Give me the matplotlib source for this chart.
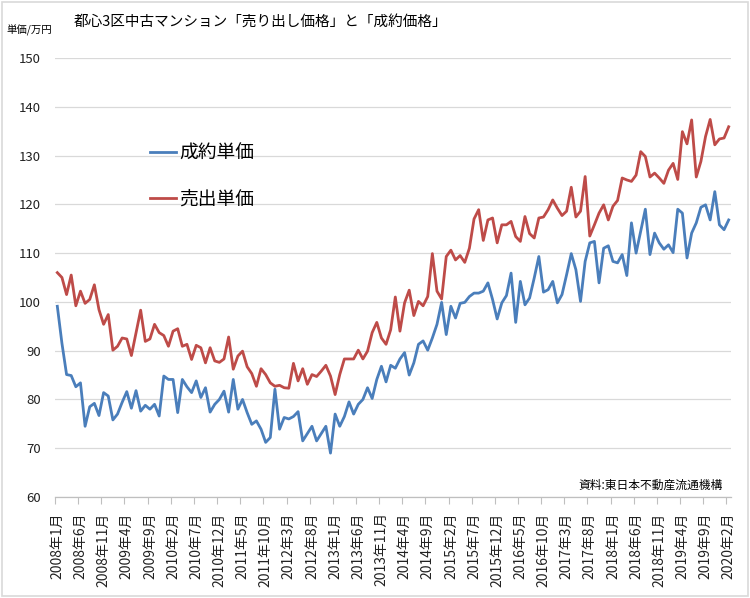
import matplotlib.pyplot as plt
from matplotlib.patches import Rectangle
import numpy as np

plt.rcParams['font.family'] = ['Noto Sans CJK JP', 'DejaVu Sans']

# 2008年1月 .. 2020年2月 (monthly, 146 points), 単位: 万円
seiyaku = [
    99.1, 91.5, 85.1, 84.9, 82.6, 83.4, 74.5, 78.5, 79.2, 76.7, 81.4, 80.7,
    75.8, 77.0, 79.4, 81.6, 78.2, 81.8, 77.6, 78.8, 78.0, 79.0, 76.6, 84.8,
    84.1, 84.1, 77.3, 84.1, 82.6, 81.4, 83.8, 80.4, 82.4, 77.4, 79.0, 80.0,
    81.7, 77.4, 84.1, 78.0, 80.0, 77.3, 74.9, 75.6, 73.9, 71.2, 72.2, 82.1,
    73.9, 76.3, 76.0, 76.5, 77.5, 71.5, 73.0, 74.5, 71.5, 73.0, 74.5, 69.0,
    77.0, 74.5, 76.5, 79.5, 77.0, 79.0, 80.0, 82.4, 80.2, 84.1, 86.8, 83.6,
    87.0, 86.4, 88.3, 89.6, 85.0, 87.5, 91.3, 92.0, 90.1, 92.6, 95.4, 99.9,
    93.3, 99.1, 96.7, 99.7, 99.9, 101.1, 101.8, 101.8, 102.2, 103.9, 100.5, 96.5,
    99.8, 101.3, 105.9, 95.8, 104.2, 99.4, 100.8, 104.9, 109.3, 102.0, 102.5, 104.2,
    99.8, 101.5, 105.6, 109.9, 106.6, 100.1, 108.3, 112.1, 112.4, 103.9, 111.0, 111.5,
    108.3, 108.0, 109.7, 105.4, 116.2, 110.0, 114.5, 119.0, 109.7, 114.1, 112.1, 110.8,
    111.7, 110.1, 119.0, 118.2, 109.0, 114.1, 116.2, 119.4, 119.9, 116.8, 122.6, 115.8,
    114.8, 116.8,
]
uridashi = [
    106.0, 105.0, 101.5, 105.5, 99.2, 102.2, 99.7, 100.5, 103.5, 98.4, 95.4, 97.4,
    90.1, 90.9, 92.6, 92.4, 89.0, 93.7, 98.3, 91.9, 92.4, 95.4, 93.7, 93.1,
    90.9, 94.0, 94.5, 90.9, 91.3, 88.2, 91.1, 90.6, 87.5, 90.6, 87.9, 87.6,
    88.3, 92.8, 86.2, 88.9, 89.9, 86.7, 85.3, 82.7, 86.3, 85.1, 83.4, 82.7,
    82.9, 82.4, 82.3, 87.4, 83.8, 86.3, 83.1, 85.1, 84.7, 85.8, 87.0, 84.8,
    81.0, 85.1, 88.3, 88.3, 88.3, 90.1, 88.3, 89.9, 93.7, 95.8, 92.6, 91.3,
    94.3, 101.0, 94.0, 99.8, 102.4, 97.2, 100.1, 99.2, 101.1, 109.9, 102.2, 100.6,
    109.3, 110.6, 108.6, 109.5, 108.1, 111.0, 117.0, 118.9, 112.6, 116.8, 117.2, 112.1,
    115.8, 115.8, 116.5, 113.4, 112.4, 117.5, 114.0, 113.1, 117.2, 117.4, 118.9, 120.9,
    119.2, 117.7, 118.6, 123.5, 117.4, 118.6, 125.7, 113.5, 115.8, 118.2, 119.9, 116.8,
    119.6, 120.8, 125.4, 125.0, 124.7, 126.0, 130.8, 129.8, 125.6, 126.4, 125.4, 124.3,
    127.0, 128.4, 125.1, 134.9, 132.4, 137.3, 125.6, 128.8, 133.9, 137.4, 132.2, 133.4,
    133.6, 135.9,
]
tick_labels = [
    "2008年1月", "2008年6月", "2008年11月", "2009年4月", "2009年9月", "2010年2月",
    "2010年7月", "2010年12月", "2011年5月", "2011年10月", "2012年3月", "2012年8月",
    "2013年1月", "2013年6月", "2013年11月", "2014年4月", "2014年9月", "2015年2月",
    "2015年7月", "2015年12月", "2016年5月", "2016年10月", "2017年3月", "2017年8月",
    "2018年1月", "2018年6月", "2018年11月", "2019年4月", "2019年9月", "2020年2月",
]

BLUE = "#4a7ebb"
RED = "#be4b48"
GRID = "#d9d9d9"

fig = plt.figure(figsize=(7.5, 5.98), dpi=100)
ax = fig.add_axes([55 / 750, 1 - 497 / 598, 676 / 750, 439 / 598])

x = np.arange(len(seiyaku))
ax.plot(x, seiyaku, color=BLUE, lw=2.0, label="成約単価", solid_joinstyle="round")
ax.plot(x, uridashi, color=RED, lw=2.0, label="売出単価", solid_joinstyle="round")

# y axis
ax.set_ylim(60, 150)
ax.set_yticks(np.arange(60, 151, 10))
ax.grid(axis="y", color=GRID, lw=0.9)
ax.set_axisbelow(True)
ax.tick_params(axis="y", length=0, pad=10, labelsize=9.5, colors="#222222")

# x axis: labels every 5 months, tick marks between categories
ax.set_xlim(-0.5, len(x) - 0.5)
ax.set_xticks(x[::5])
ax.set_xticklabels(tick_labels, rotation=90, fontsize=10)
ax.set_xticks(np.arange(-0.5, len(x), 5), minor=True)
ax.tick_params(axis="x", which="major", length=0, pad=11, colors="#222222")
ax.tick_params(axis="x", which="minor", length=5, color="#bfbfbf", width=0.8)

for s in ["top", "right", "left"]:
    ax.spines[s].set_visible(False)
ax.spines["bottom"].set_color("#bfbfbf")
ax.spines["bottom"].set_linewidth(0.9)

ax.legend(loc="upper left", bbox_to_anchor=(0.14, 0.807), frameon=False,
          fontsize=13.5, handlelength=1.4, handletextpad=0.2,
          labelspacing=1.32, borderpad=0, borderaxespad=0)

ax.text(0.988, 0.027, "資料:東日本不動産流通機構", transform=ax.transAxes,
        ha="right", va="center", fontsize=8.5)

fig.text(260 / 750, 1 - 22 / 598, "都心3区中古マンション「売り出し価格」と「成約価格」",
         ha="center", va="center", fontsize=10.5)
fig.text(6 / 750, 1 - 30 / 598, "単価/万円", ha="left", va="center", fontsize=7.5)

fig.patches.append(Rectangle((0.002, 0.003), 0.995, 0.994, transform=fig.transFigure,
                             fill=False, ec=GRID, lw=1.2))

fig.savefig("out.png", dpi=100)
